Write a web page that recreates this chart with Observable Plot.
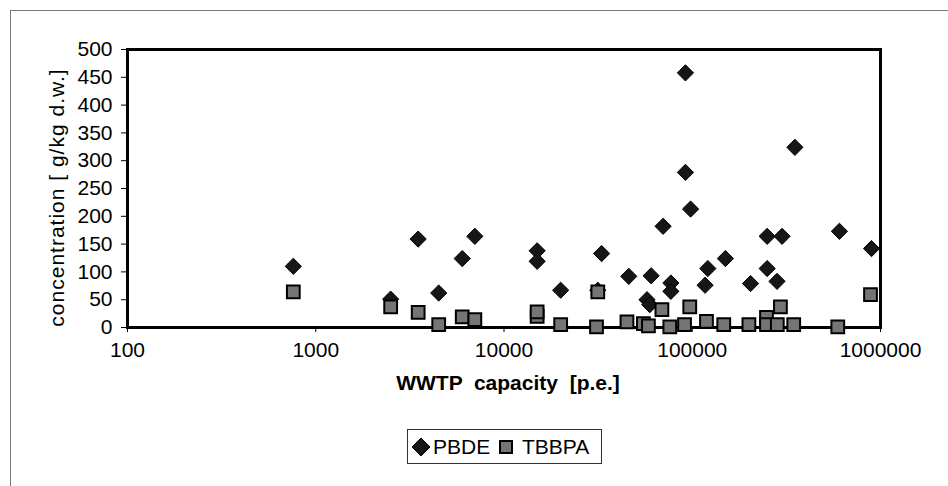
<!DOCTYPE html>
<html><head><meta charset="utf-8">
<script src="https://cdn.jsdelivr.net/npm/d3@7"></script>
<script src="https://cdn.jsdelivr.net/npm/@observablehq/plot@0.6"></script>
<style>
html,body{margin:0;padding:0;background:#fff;}
#wrap{position:relative;width:948px;height:486px;overflow:hidden;font-family:"Liberation Sans",Arial,sans-serif;}
#border{position:absolute;left:10px;top:10px;width:1000px;height:600px;border-left:1px solid #7a7a7a;border-top:1px solid #7a7a7a;}
#chart{position:absolute;left:0;top:0;}
#legend{position:absolute;left:407px;top:429px;width:195px;height:35px;border:1px solid #333;box-sizing:border-box;background:#fff;font-size:21px;color:#000;}
#legend .it{position:absolute;top:0;line-height:33px;}
#legend svg{position:absolute;}
</style>
</head><body>
<div id="wrap">
  <div id="border"></div>
  <div id="chart"></div>
  <div id="legend"></div>
</div>
<script>
// WWTP capacity [p.e.] and concentrations
const pbdeCapacity = [760, 2500, 3500, 4500, 6000, 7000, 15000, 15000, 20000, 31500, 33000, 46000, 57500, 59500, 60500, 70000, 77000, 77000, 92000, 92000, 98000, 117000, 121000, 150000, 204000, 250000, 250000, 282000, 300000, 351000, 605000, 896000];
const pbdeConc     = [110, 51, 159, 62, 124, 164, 138, 119, 67, 67, 133, 92, 50, 41, 93, 182, 80, 65, 458, 279, 213, 76, 106, 124, 79, 164, 106, 83, 164, 324, 173, 142];
const tbbpaCapacity = [760, 2500, 3500, 4500, 6000, 7000, 15000, 15000, 20000, 31500, 31000, 45000, 55000, 58500, 69000, 76000, 91000, 97000, 119000, 147000, 200000, 248000, 248000, 283000, 294000, 346000, 593000, 885000];
const tbbpaConc     = [64, 37, 27, 5, 19, 14, 20, 28, 5, 64, 1, 10, 7, 3, 32, 1, 5, 37, 11, 5, 5, 18, 5, 5, 37, 5, 1, 59];
const xTicks = [100, 1000, 10000, 100000, 1000000];
const yTicks = [0, 50, 100, 150, 200, 250, 300, 350, 400, 450, 500];
const seriesNames = ["PBDE", "TBBPA"];
const yTitle = "concentration [ g/kg d.w.]";
const xTitle = "WWTP  capacity  [p.e.]";

const pbde = pbdeCapacity.map((c, i) => ({cap: c, conc: pbdeConc[i]}));
const tbbpa = tbbpaCapacity.map((c, i) => ({cap: c, conc: tbbpaConc[i]}));

const chart = Plot.plot({
  width: 948, height: 415,
  marginLeft: 127, marginRight: 68, marginTop: 49, marginBottom: 88,
  style: {fontFamily: "'Liberation Sans', Arial, sans-serif", fontSize: "21px", color: "#000", background: "transparent", overflow: "visible"},
  x: {type: "log", domain: [100, 1000000]},
  y: {domain: [0, 500]},
  marks: [
    Plot.axisY({ticks: yTicks, tickSize: 6, tickPadding: 9, tickFormat: d => String(d), label: null, stroke: "#000", fontSize: 21}),
    Plot.axisX({ticks: xTicks, tickSize: 5, tickPadding: 10, tickFormat: d => String(d), label: null, stroke: "#000", fontSize: 21}),
    Plot.text([yTitle], {frameAnchor: "left", textAnchor: "middle", rotate: -90, dx: -70, dy: 9, fontSize: 21, fill: "#000"}),
    Plot.text([xTitle], {frameAnchor: "bottom", textAnchor: "middle", dy: 62, dx: 4, fontSize: 21, fontWeight: "bold", fill: "#000"}),
    Plot.frame({stroke: "#000", strokeWidth: 3}),
    Plot.dot(pbde, {x: "cap", y: "conc", symbol: "diamond2", r: 7.3, fill: "#161616", stroke: "#000", strokeWidth: 1}),
    Plot.dot(tbbpa, {x: "cap", y: "conc", symbol: "square", r: 7.2, fill: "#757575", stroke: "#000", strokeWidth: 2})
  ]
});
document.getElementById("chart").appendChild(chart);
// force text sizing / spacing on every text of the chart
chart.querySelectorAll("text").forEach(t => {
  t.style.fontSize = "21px";
  t.style.fontFamily = "'Liberation Sans', Arial, sans-serif";
  t.style.fontVariant = "normal";
  if (t.textContent === yTitle) t.style.letterSpacing = "1px";
});

// legend
const lg = document.getElementById("legend");
lg.innerHTML =
  `<svg style="left:3px;top:7px" width="20" height="20"><path d="M10,1 L19,10 L10,19 L1,10 Z" fill="#161616" stroke="#000" stroke-width="1"/></svg>` +
  `<span class="it" style="left:25px">${seriesNames[0]}</span>` +
  `<svg style="left:90px;top:9px" width="16" height="16"><rect x="2" y="2" width="12" height="12" fill="#757575" stroke="#000" stroke-width="2"/></svg>` +
  `<span class="it" style="left:114px">${seriesNames[1]}</span>`;
</script>
</body></html>
